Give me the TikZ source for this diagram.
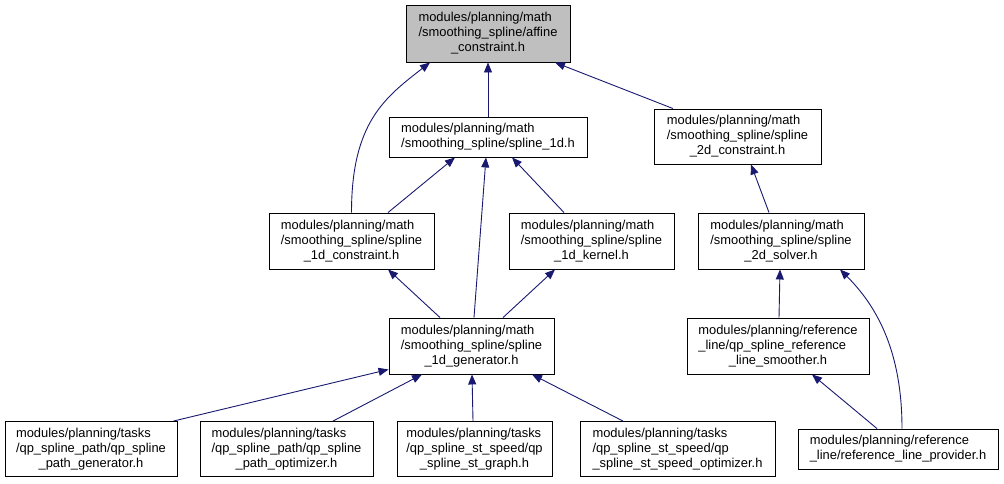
\documentclass[tikz,border=0pt]{standalone}
\usepackage{fontspec}
\setmainfont{Liberation Sans}
\usetikzlibrary{arrows.meta}
\definecolor{edgec}{HTML}{191970}
\definecolor{rootc}{HTML}{BFBFBF}
\tikzset{
  file/.style={draw=black, line width=0.9pt, fill=white, inner sep=0pt, align=center,
               font=\fontsize{12.9}{15}\selectfont},
  root/.style={file, fill=rootc},
  dep/.style={draw=edgec, line width=0.9pt, -{Triangle[length=10pt,width=8pt]}},
}
\newcommand{\ftwo}[2]{\begin{tabular}{@{}l@{}}#1\\#2\end{tabular}}
\newcommand{\fthree}[3]{\begin{tabular}{@{}l@{}}#1\\#2\\\multicolumn{1}{@{}c@{}}{#3}\end{tabular}}

\begin{document}
\begin{tikzpicture}[x=1pt, y=-1pt]
\useasboundingbox (0,0) rectangle (1004,483);

% ---------------- the files ----------------
\node[root, minimum width=164pt, minimum height=57pt] (affine) at (488,33.5)
  {\fthree{modules/planning/math}{/smoothing\_spline/affine}{\_constraint.h}};
\node[file, minimum width=198pt, minimum height=40pt] (spline1d) at (488,137)
  {\ftwo{modules/planning/math}{/smoothing\_spline/spline\_1d.h}};
\node[file, minimum width=167pt, minimum height=55pt] (cons2d) at (737.5,136.5)
  {\fthree{modules/planning/math}{/smoothing\_spline/spline}{\_2d\_constraint.h}};
\node[file, minimum width=165pt, minimum height=56pt] (cons1d) at (351.5,241)
  {\fthree{modules/planning/math}{/smoothing\_spline/spline}{\_1d\_constraint.h}};
\node[file, minimum width=165pt, minimum height=56pt] (kern1d) at (591.5,241)
  {\fthree{modules/planning/math}{/smoothing\_spline/spline}{\_1d\_kernel.h}};
\node[file, minimum width=166pt, minimum height=56pt] (solver2d) at (781,241)
  {\fthree{modules/planning/math}{/smoothing\_spline/spline}{\_2d\_solver.h}};
\node[file, minimum width=165pt, minimum height=56pt] (gen1d) at (471.5,346)
  {\fthree{modules/planning/math}{/smoothing\_spline/spline}{\_1d\_generator.h}};
\node[file, minimum width=182pt, minimum height=56pt] (smoother) at (778,346)
  {\fthree{modules/planning/reference}{\_line/qp\_spline\_reference}{\_line\_smoother.h}};

\node[file, minimum width=172pt, minimum height=55pt] (pathgen) at (91,449)
  {\fthree{modules/planning/tasks}{/qp\_spline\_path/qp\_spline}{\_path\_generator.h}};
\node[file, minimum width=173pt, minimum height=55pt] (pathopt) at (286.5,449)
  {\fthree{modules/planning/tasks}{/qp\_spline\_path/qp\_spline}{\_path\_optimizer.h}};
\node[file, minimum width=155pt, minimum height=55pt] (stgraph) at (474.5,449)
  {\fthree{modules/planning/tasks}{/qp\_spline\_st\_speed/qp}{\_spline\_st\_graph.h}};
\node[file, minimum width=195pt, minimum height=55pt] (speedopt) at (677.5,449)
  {\fthree{modules/planning/tasks}{/qp\_spline\_st\_speed/qp}{\_spline\_st\_speed\_optimizer.h}};
\node[file, minimum width=200pt, minimum height=40pt] (provider) at (898,449)
  {\ftwo{modules/planning/reference}{\_line/reference\_line\_provider.h}};

% ---------------- the includes ----------------
\draw[dep] (spline1d.north) -- (affine.south);
\draw[dep] ([xshift=-64.5pt]cons2d.north) -- ([xshift=67pt]affine.south);
\draw[dep] (cons1d.north) .. controls +(0,-90) and +(-45,35) .. ([xshift=-58pt]affine.south);

\draw[dep] ([xshift=36.5pt]cons1d.north) -- ([xshift=-33pt]spline1d.south);
\draw[dep] ([xshift=-27.5pt]kern1d.north) -- ([xshift=24pt]spline1d.south);
\draw[dep] ([xshift=2.5pt]gen1d.north) -- ([xshift=-2pt]spline1d.south);
\draw[dep] ([xshift=-31.5pt]gen1d.north) -- ([xshift=36.5pt]cons1d.south);
\draw[dep] ([xshift=31.5pt]gen1d.north) -- ([xshift=-36.5pt]kern1d.south);

\draw[dep] ([xshift=-12pt]solver2d.north) -- ([xshift=13.5pt]cons2d.south);
\draw[dep] ([xshift=1pt]smoother.north) -- ([xshift=-1pt]solver2d.south);
\draw[dep] ([xshift=4pt]provider.north) .. controls +(0,-80) and +(35,35) .. ([xshift=59pt]solver2d.south);
\draw[dep] ([xshift=-21pt]provider.north) -- ([xshift=34pt]smoother.south);

\draw[dep] ([xshift=-4pt]pathgen.north east) -- ([yshift=5pt]gen1d.south west);
\draw[dep] ([xshift=46.5pt]pathopt.north) -- ([xshift=-49.5pt]gen1d.south);
\draw[dep] ([xshift=-1.5pt]stgraph.north) -- ([xshift=0.5pt]gen1d.south);
\draw[dep] ([xshift=-54.5pt]speedopt.north) -- ([xshift=60.5pt]gen1d.south);
\end{tikzpicture}
\end{document}
